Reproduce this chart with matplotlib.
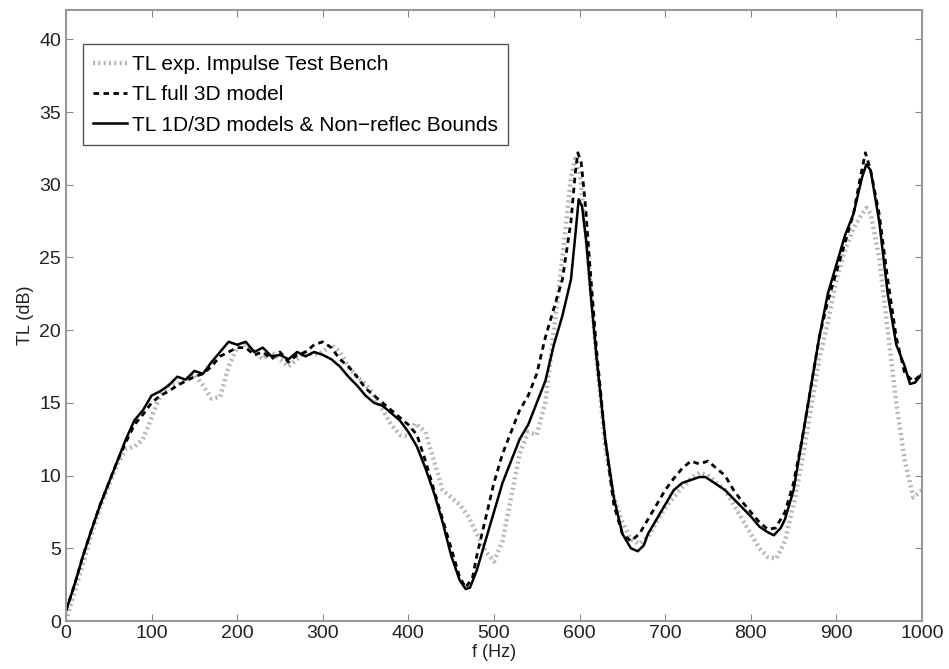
import numpy as np
import matplotlib.pyplot as plt

plt.rcParams['font.family'] = ['Liberation Sans', 'DejaVu Sans']

# TL exp. Impulse Test Bench
f_exp = [0, 10, 20, 30, 40, 50, 60, 70, 80, 90, 100, 110, 120, 130, 140, 150, 160, 170, 180, 190,
         200, 210, 220, 230, 240, 250, 260, 270, 280, 290, 300, 310, 320, 330, 340, 350, 360, 370,
         380, 390, 400, 408, 420, 430, 440, 450, 460, 470, 480, 490, 500, 510, 520, 530, 540, 550,
         560, 570, 580, 590, 595, 600, 610, 620, 630, 640, 650, 660, 670, 680, 690, 700, 710, 720,
         730, 740, 750, 760, 770, 780, 790, 800, 810, 820, 830, 840, 850, 860, 870, 880, 890, 900,
         910, 920, 930, 935, 940, 950, 960, 970, 980, 990, 1000]
tl_exp = [0.0, 2.0, 4.0, 6.0, 7.8, 9.3, 10.8, 11.8, 12.0, 12.5, 14.0, 15.5, 16.2, 16.3, 16.6, 17.0,
          16.2, 15.3, 15.4, 17.5, 18.8, 19.0, 18.5, 18.0, 18.5, 18.0, 17.5, 18.0, 18.5, 18.3, 18.5,
          19.0, 18.5, 17.5, 16.8, 16.3, 15.5, 14.5, 13.5, 12.8, 12.7, 13.6, 13.0, 11.0, 9.0, 8.5,
          8.0, 7.2, 6.0, 4.8, 4.1, 5.5, 8.5, 11.5, 13.0, 12.8, 15.0, 20.0, 25.0, 30.5, 31.8, 31.0,
          25.0, 18.0, 12.0, 8.5, 6.8, 5.6, 5.3, 5.8, 6.8, 7.8, 8.5, 9.2, 9.8, 10.2, 10.0, 9.5, 9.0,
          8.0, 7.0, 6.0, 5.0, 4.4, 4.3, 5.5, 8.0, 11.0, 14.5, 18.0, 20.5, 23.5, 25.5, 27.0, 28.0,
          28.4, 28.0, 25.0, 20.0, 15.0, 11.0, 8.5, 9.0]

# TL full 3D model
f_3d = [0, 10, 20, 30, 40, 50, 60, 70, 80, 90, 100, 110, 120, 130, 140, 150, 160, 170, 180, 190,
        200, 210, 220, 230, 240, 250, 260, 270, 280, 290, 300, 310, 320, 330, 340, 350, 360, 370,
        380, 390, 400, 410, 420, 430, 440, 450, 460, 467, 475, 480, 490, 500, 510, 520, 530, 540,
        550, 560, 570, 580, 590, 595, 598, 602, 607, 612, 620, 630, 640, 650, 660, 670, 680, 690,
        700, 710, 720, 730, 740, 750, 760, 770, 780, 790, 800, 810, 820, 829, 840, 850, 860, 870,
        880, 890, 900, 910, 920, 928, 934, 940, 950, 960, 970, 980, 990, 1000]
tl_3d = [0.7, 2.5, 4.5, 6.3, 8.0, 9.5, 11.0, 12.3, 13.5, 14.2, 15.0, 15.5, 15.8, 16.2, 16.5, 16.8,
         17.0, 17.5, 18.2, 18.5, 18.8, 18.8, 18.3, 18.5, 18.0, 18.5, 17.8, 18.3, 18.5, 19.0, 19.2,
         18.8, 18.0, 17.5, 16.8, 16.0, 15.5, 15.0, 14.5, 14.0, 13.5, 12.8, 11.0, 9.0, 7.0, 5.0,
         3.0, 2.3, 3.0, 4.5, 7.0, 9.5, 11.5, 13.0, 14.5, 15.5, 17.0, 19.5, 21.5, 23.5, 27.5, 30.8,
         32.2, 31.5, 28.5, 24.5, 18.5, 12.5, 8.0, 6.0, 5.5, 6.0, 7.0, 8.0, 9.0, 9.8, 10.5, 11.0,
         10.8, 11.0, 10.5, 10.0, 9.0, 8.2, 7.5, 6.8, 6.3, 6.4, 7.5, 9.5, 12.5, 16.0, 19.5, 22.0,
         24.0, 26.0, 28.0, 30.5, 32.2, 31.0, 28.0, 23.5, 19.5, 17.0, 16.5, 17.0]

# TL 1D/3D models & Non-reflec Bounds
f_1d = [0, 10, 20, 30, 40, 50, 60, 70, 80, 90, 100, 110, 120, 130, 140, 150, 160, 170, 180, 190,
        200, 210, 220, 230, 240, 250, 260, 270, 280, 290, 300, 310, 320, 330, 340, 350, 360, 370,
        380, 390, 400, 410, 420, 430, 440, 450, 460, 467, 472, 480, 490, 500, 510, 520, 530, 540,
        550, 560, 570, 580, 590, 595, 599, 603, 608, 613, 620, 630, 640, 650, 660, 668, 675, 680,
        690, 700, 710, 720, 730, 740, 747, 760, 770, 780, 790, 800, 810, 820, 827, 835, 840, 850,
        860, 870, 880, 890, 900, 910, 920, 930, 935, 940, 950, 960, 970, 980, 986, 992, 1000]
tl_1d = [0.7, 2.5, 4.5, 6.3, 8.0, 9.5, 11.0, 12.5, 13.8, 14.5, 15.5, 15.8, 16.2, 16.8, 16.6, 17.2,
         17.0, 17.8, 18.5, 19.2, 19.0, 19.2, 18.5, 18.8, 18.2, 18.3, 18.0, 18.5, 18.2, 18.5, 18.3,
         18.0, 17.5, 16.8, 16.2, 15.5, 15.0, 14.8, 14.3, 13.8, 13.0, 12.0, 10.5, 8.8, 6.8, 4.5,
         2.8, 2.2, 2.3, 3.5, 5.5, 7.5, 9.5, 11.0, 12.5, 13.5, 15.0, 16.5, 19.0, 21.0, 23.5, 26.5,
         29.0, 28.5, 26.0, 22.5, 18.0, 12.5, 8.5, 6.0, 5.0, 4.8, 5.2, 6.0, 7.0, 8.0, 9.0, 9.5, 9.7,
         9.9, 9.9, 9.4, 9.0, 8.4, 7.8, 7.2, 6.5, 6.1, 5.9, 6.4, 7.0, 9.0, 12.5, 16.0, 19.5, 22.5,
         24.5, 26.5, 28.0, 30.5, 31.4, 31.0, 27.5, 22.5, 19.0, 17.5, 16.3, 16.4, 17.0]

fig = plt.figure(figsize=(9.49, 6.69), dpi=100)
ax = fig.add_axes([0.0695, 0.0717, 0.902, 0.913])

ax.plot(f_exp, tl_exp, color='#b4b4b4', lw=3.2, dashes=(0.45, 0.75), dash_capstyle='butt',
        label='TL exp. Impulse Test Bench')
ax.plot(f_3d, tl_3d, color='black', lw=2.0, dashes=(2.0, 1.6),
        label='TL full 3D model')
ax.plot(f_1d, tl_1d, color='black', lw=1.8, label='TL 1D/3D models & Non\u2212reflec Bounds')

ax.set_xlim(0, 1000)
ax.set_ylim(0, 42)
ax.set_xticks(np.arange(0, 1001, 100))
ax.set_yticks(np.arange(0, 41, 5))
ax.tick_params(direction='in', top=True, right=True, length=5, color='#888888',
               labelsize=14, labelcolor='#222222')
ax.tick_params(axis='x', pad=3)
for s in ax.spines.values():
    s.set_color('#999999')
    s.set_linewidth(1.5)

ax.set_xlabel('f (Hz)', fontsize=13, labelpad=1, color='#222222')
ax.set_ylabel('TL (dB)', fontsize=13, labelpad=4, color='#222222')

leg = ax.legend(loc='upper left', bbox_to_anchor=(0.02, 0.944), fontsize=15, handlelength=1.6,
                handletextpad=0.25, borderaxespad=0, fancybox=False, framealpha=1,
                labelspacing=0.55, borderpad=0.5)
leg.get_frame().set_edgecolor('#555555')
leg.get_frame().set_linewidth(1.0)

fig.savefig('out.png', dpi=100)
